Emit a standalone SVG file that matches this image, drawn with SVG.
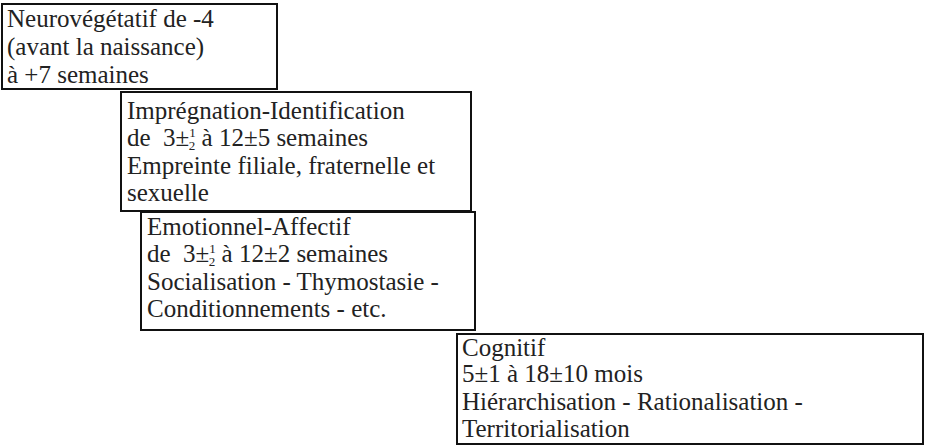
<svg xmlns="http://www.w3.org/2000/svg" width="926" height="446" viewBox="0 0 926 446">
<style>
rect{fill:#fff;stroke:#111;stroke-width:2}
text{font-family:"Liberation Serif","Times New Roman",serif;font-size:25px;fill:#222;white-space:pre}
.fr{font-size:13px}
</style>
<rect x="0" y="0" width="926" height="446" style="fill:#fff;stroke:none"/>
<g id="n1">
<rect x="2" y="4" width="275" height="85"/>
<text x="7" y="27">Neurovégétatif de -4</text>
<text x="7" y="55">(avant la naissance)</text>
<text x="7" y="83">à +7 semaines</text>
</g>
<g id="n2">
<rect x="121" y="92" width="350" height="119"/>
<text x="127" y="119">Imprégnation-Identification</text>
<text x="127" y="146">de  3±<tspan class="fr" dy="-9">1</tspan><tspan class="fr" dx="-7" dy="13">2</tspan><tspan dy="-4"> à 12±5 semaines</tspan></text>
<text x="127" y="174">Empreinte filiale, fraternelle et</text>
<text x="127" y="201">sexuelle</text>
</g>
<g id="n3">
<rect x="141" y="212" width="334" height="118"/>
<text x="147" y="235">Emotionnel-Affectif</text>
<text x="147" y="262">de  3±<tspan class="fr" dy="-9">1</tspan><tspan class="fr" dx="-7" dy="13">2</tspan><tspan dy="-4"> à 12±2 semaines</tspan></text>
<text x="147" y="290">Socialisation - Thymostasie -</text>
<text x="147" y="317">Conditionnements - etc.</text>
</g>
<g id="n4">
<rect x="457" y="334" width="466" height="110"/>
<text x="462" y="356">Cognitif</text>
<text x="462" y="382">5±1 à 18±10 mois</text>
<text x="462" y="410">Hiérarchisation - Rationalisation -</text>
<text x="462" y="437">Territorialisation</text>
</g>
<g id="connectors"></g>
</svg>
